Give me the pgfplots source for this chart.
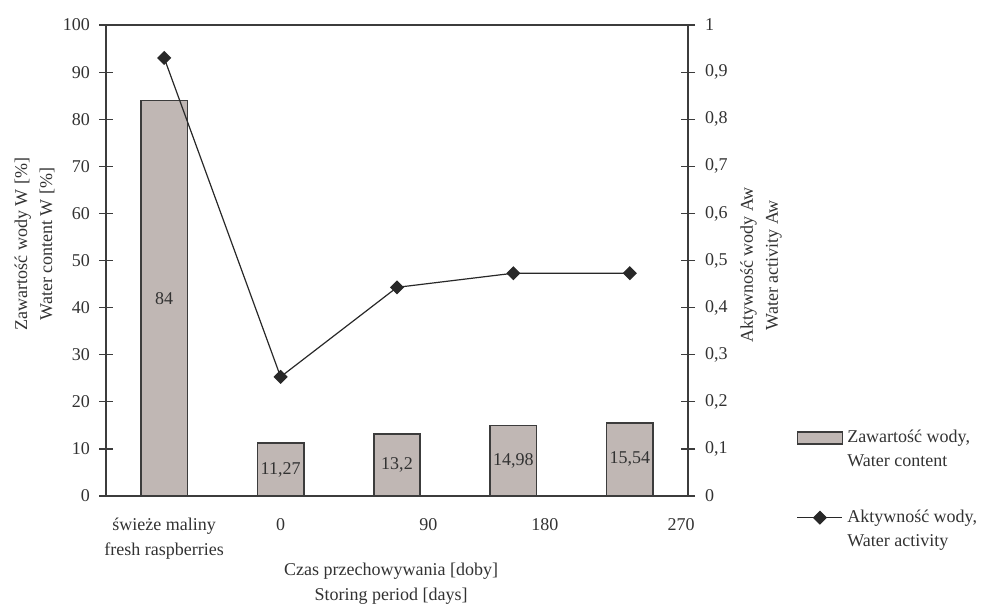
\documentclass[border=0pt]{standalone}
\usepackage{fontspec}
\setmainfont{Liberation Serif}
\usepackage{pgfplots}
\usepackage{pgfplotstable}
\pgfplotsset{compat=1.18}

\definecolor{barfill}{RGB}{192,183,180}
\definecolor{edge}{RGB}{60,60,60}
\definecolor{ink}{RGB}{50,50,50}
\definecolor{linecol}{RGB}{40,40,40}

% water content W [%] and water activity Aw per sample
\pgfplotstableread{
x w aw
0 84 0.93
1 11.27 0.253
2 13.2 0.443
3 14.98 0.473
4 15.54 0.473
}\datatab

\pgfplotsset{
  common/.style={
    scale only axis, width=291pt, height=235.5pt,
    at={(53pt,55.5pt)}, anchor=south west,
    xmin=-0.5, xmax=4.5,
    tick align=center, major tick length=7pt,
    tick style={edge, line width=0.6pt},
    axis line style={edge, line width=0.6pt},
    font=\fontsize{9}{12.5}\selectfont,
    tick label style={text=ink},
    label style={text=ink},
    /pgf/number format/assume math mode=true,
    /pgf/number format/use comma,
    /pgf/number format/1000 sep={},
  },
  barlegend/.style={legend image code/.code={%
    \draw[##1] (0pt,3pt) rectangle (22.5pt,9pt);
    \path[draw=none, fill=none] (0pt,-9pt) -- (0pt,9pt);}},
  linelegend/.style={legend image code/.code={%
    \draw[##1, mark repeat=2, mark phase=2] plot coordinates {(0pt,6pt) (11.25pt,6pt) (22.5pt,6pt)};
    \path[draw=none, fill=none] (0pt,-9pt) -- (0pt,9pt);}},
}

\begin{document}
\begin{tikzpicture}
\path[use as bounding box] (0,0) rectangle (502pt,303.5pt);

\begin{axis}[common,
  ymin=0, ymax=100, ytick={0,10,...,100}, ytick pos=left,
  xtick={0,1,2.27,3.27,4.44}, xtick pos=bottom,
  xticklabels={świeże maliny\\fresh raspberries, 0, 90, \raisebox{2.5pt}{180}, \raisebox{2.5pt}{270}},
  xticklabel style={align=center, yshift=-4pt},
  x tick style={draw=none},
  yticklabel style={xshift=-1pt},
  xlabel={Czas przechowywania [doby]\\Storing period [days]},
  xlabel style={align=center, at={(axis description cs:0.49,-0.1865)}, anchor=center},
  ylabel={Zawartość wody W [\%]\\Water content W [\%]},
  ylabel style={align=center, at={(axis description cs:-0.1229,0.535)}, anchor=center},
]
\addplot[ybar, bar width=0.4, fill=barfill, draw=edge, line width=0.8pt,
  nodes near coords,
  visualization depends on={1.1775*y \as \halfh},
  every node near coord/.append style={anchor=center, text=ink, yshift=-\halfh*1pt}]
  table[x=x, y=w] {\datatab};
\end{axis}

\begin{axis}[common,
  axis y line*=right, axis x line=none,
  ymin=0, ymax=1,
  ytick={0,0.1,0.2,0.3,0.4,0.5,0.6,0.7,0.8,0.9,1},
  yticklabel style={xshift=1.5pt},
  ylabel={Aktywność wody Aw\\Water activity Aw},
  ylabel style={align=center, at={(axis description cs:1.1254,0.49)}, anchor=center},
  legend style={at={(axis description cs:1.186,0.013)}, anchor=west,
    draw=none, fill=none, inner sep=0pt, row sep=16pt, text=ink,
    cells={align=left, anchor=west}, font=\fontsize{9}{12}\selectfont},
]
\addlegendimage{fill=barfill, draw=edge, line width=0.8pt, barlegend}
\addlegendentry{Zawartość wody,\\Water content}
\addplot[linecol, line width=0.6pt, mark=square*, mark size=2.2pt,
  mark options={rotate=45, fill=linecol, solid}, linelegend]
  table[x=x, y=aw] {\datatab};
\addlegendentry{Aktywność wody,\\Water activity}
\end{axis}
\end{tikzpicture}
\end{document}
